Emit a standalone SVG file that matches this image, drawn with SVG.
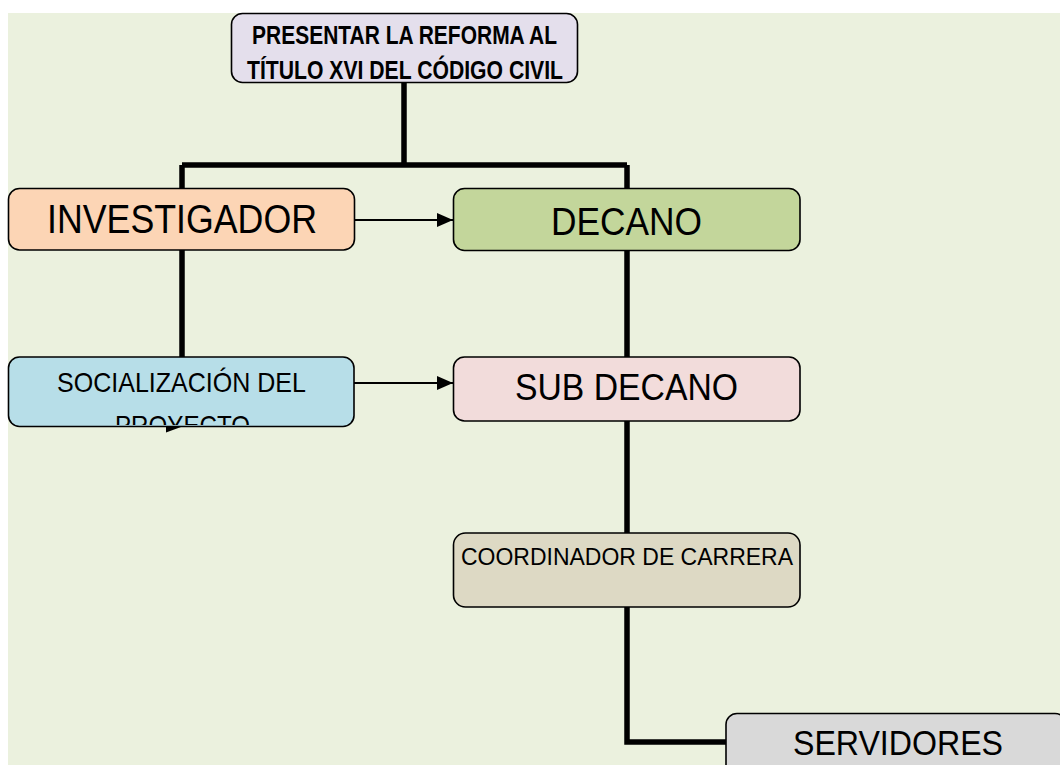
<svg xmlns="http://www.w3.org/2000/svg" width="1060" height="765" viewBox="0 0 1060 765">
<style>
.box{stroke:#000;stroke-width:1.6}
.t{font-family:"Liberation Sans",Arial,sans-serif;fill:#000}
.thick{stroke:#000;stroke-width:5.5;fill:none}
.thin{stroke:#000;stroke-width:1.8;fill:none}
</style>
<defs>
<marker id="ah" viewBox="0 0 16 14" refX="16" refY="7" markerWidth="16" markerHeight="14" markerUnits="userSpaceOnUse" orient="auto">
<path d="M0,0 L16,7 L0,14 Z" fill="#000"/>
</marker>
<clipPath id="clipSoc"><rect x="9" y="358" width="344" height="67" rx="10"/></clipPath>
</defs>
<rect x="0" y="0" width="1060" height="765" fill="#fff"/>
<rect x="8" y="13" width="1052" height="752" fill="#EBF1DE"/>
<g id="connectors">
<path class="thick" d="M404,82 V165 M182,165 H627 M182,165 V188 M627,165 V188"/>
<path class="thick" d="M182,250 V357 M627,250 V357 M627,421 V533 M627,607 V742 H726"/>
<line class="thin" x1="355" y1="220" x2="453" y2="220" marker-end="url(#ah)"/>
<line class="thin" x1="354" y1="383" x2="453" y2="383" marker-end="url(#ah)"/>
<path d="M166,421.5 L181,427 L166,432.5 Z" fill="#000"/>
</g>
<g id="n-presentar">
<rect class="box" x="231.5" y="13.5" width="346" height="69" rx="11" fill="#E4DFEC"/>
<text class="t" x="252" y="44" font-size="25" font-weight="bold" textLength="305" lengthAdjust="spacingAndGlyphs">PRESENTAR LA REFORMA AL</text>
<text class="t" x="247" y="79" font-size="25" font-weight="bold" textLength="316" lengthAdjust="spacingAndGlyphs">TÍTULO XVI DEL CÓDIGO CIVIL</text>
</g>
<g id="n-investigador">
<rect class="box" x="8.5" y="188.5" width="346" height="61.5" rx="11" fill="#FCD5B5"/>
<text class="t" x="47" y="233" font-size="40" textLength="270" lengthAdjust="spacingAndGlyphs">INVESTIGADOR</text>
</g>
<g id="n-decano">
<rect class="box" x="453.5" y="188.5" width="346.5" height="62" rx="11" fill="#C3D69B"/>
<text class="t" x="551" y="235" font-size="38.5" textLength="151" lengthAdjust="spacingAndGlyphs">DECANO</text>
</g>
<g id="n-socializacion">
<rect class="box" x="8.5" y="357" width="345.5" height="69.5" rx="11" fill="#B7DEE8"/>
<text class="t" x="57" y="391.7" font-size="27.5" textLength="249" lengthAdjust="spacingAndGlyphs">SOCIALIZACIÓN DEL</text>
<text class="t" x="115" y="434.7" font-size="27.5" textLength="135" lengthAdjust="spacingAndGlyphs" clip-path="url(#clipSoc)">PROYECTO</text>
</g>
<g id="n-subdecano">
<rect class="box" x="453.5" y="357" width="346.5" height="64" rx="11" fill="#F2DCDB"/>
<text class="t" x="515" y="400" font-size="36" textLength="223" lengthAdjust="spacingAndGlyphs">SUB DECANO</text>
</g>
<g id="n-coordinador">
<rect class="box" x="453.5" y="533" width="346.5" height="74" rx="12" fill="#DDD9C4"/>
<text class="t" x="461" y="565" font-size="24.7" textLength="332" lengthAdjust="spacingAndGlyphs">COORDINADOR DE CARRERA</text>
</g>
<g id="n-servidores">
<rect class="box" x="726" y="713.5" width="340" height="70" rx="11" fill="#D9D9D9"/>
<text class="t" x="793" y="755" font-size="35" textLength="210" lengthAdjust="spacingAndGlyphs">SERVIDORES</text>
</g>
</svg>
